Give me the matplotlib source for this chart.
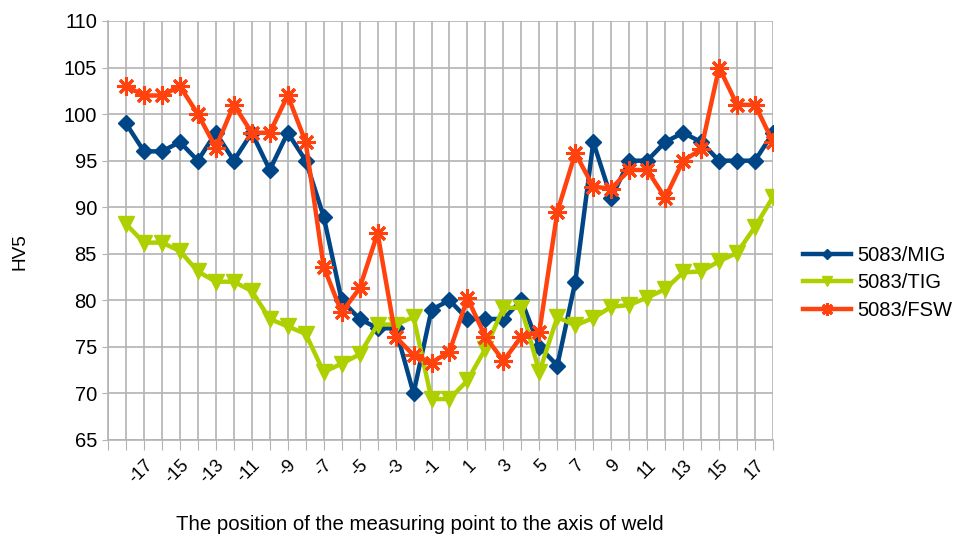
import numpy as np
import matplotlib
matplotlib.use("Agg")
import matplotlib.pyplot as plt

plt.rcParams['font.family'] = ['Liberation Sans', 'DejaVu Sans']

positions = list(range(-18, 19))

mig = [99, 96, 96, 97, 95, 98, 95, 98, 94, 98, 95, 89, 80, 78, 77, 77, 70, 79, 80,
       78, 78, 78, 80, 75, 73, 82, 97, 91, 95, 95, 97, 98, 97, 95, 95, 95, 98]
tig = [88.2, 86.2, 86.2, 85.3, 83.1, 82, 82, 81, 78, 77.2, 76.4, 72.3, 73.2, 74.2, 77.4, 77.4, 78.2, 69.4, 69.4,
       71.4, 74.8, 79.2, 79.2, 72.3, 78.2, 77.3, 78.1, 79.3, 79.5, 80.3, 81.2, 83, 83.1, 84.2, 85.1, 87.9, 91.1]
fsw = [103, 102, 102, 103, 100, 96.4, 101, 98, 98, 102, 97, 83.6, 78.7, 81.3, 87.2, 76.1, 74.1, 73.3, 74.5,
       80.2, 76.1, 73.5, 76.1, 76.6, 89.5, 95.8, 92.2, 92, 94, 94, 91, 95, 96.2, 105, 101, 101, 97]

series_names = ['5083/MIG', '5083/TIG', '5083/FSW']
colors = ['#004586', '#aecf00', '#ff420e']

xticks = list(range(-19, 19))
xtick_labels = [str(v) if v % 2 != 0 and v != -19 else '' for v in xticks]
yticks = list(range(65, 111, 5))

fig = plt.figure(figsize=(9.59, 5.37), dpi=100)
ax = fig.add_axes([108 / 959, 1 - 440 / 537, (773 - 108) / 959, (440 - 21) / 537])

ax.plot(positions, mig, color=colors[0], lw=3.2, marker='D', ms=8, label=series_names[0], zorder=3)
ax.plot(positions, tig, color=colors[1], lw=3.2, marker='v', ms=11, label=series_names[1], zorder=3)
ax.plot(positions, fsw, color=colors[2], lw=3.2, marker=(8, 2, 0), ms=13, mew=2.2,
        label=series_names[2], zorder=4)

ax.set_xlim(-19, 18)
ax.set_ylim(65, 110)
ax.set_xticks(xticks)
ax.set_xticklabels(xtick_labels, rotation=45, ha='right', va='top',
                   rotation_mode='anchor', fontsize=13)
ax.set_yticks(yticks)
ax.tick_params(axis='y', labelsize=14.5, length=4, color='#b3b3b3', pad=4)
ax.tick_params(axis='x', length=7, color='#b3b3b3', pad=5)

ax.grid(True, color='#b3b3b3', lw=1.2)
ax.set_axisbelow(True)
for side in ['top', 'right']:
    ax.spines[side].set_visible(False)
for side in ['left', 'bottom']:
    ax.spines[side].set_color('#b3b3b3')
    ax.spines[side].set_linewidth(1.2)

fig.text(420 / 959, 1 - 525 / 537, 'The position of the measuring point to the axis of weld',
         ha='center', va='center', fontsize=14.7)
fig.text(20 / 959, 1 - 252 / 537, 'HV5', rotation=90, ha='center', va='center', fontsize=13.7)

fig.legend(loc='center left', bbox_to_anchor=(795 / 959, 1 - 283 / 537), frameon=False,
           fontsize=14.5, handlelength=2.4, handletextpad=0.3, labelspacing=0.4,
           markerscale=0.7, borderaxespad=0)

fig.savefig('out.png', dpi=100)
